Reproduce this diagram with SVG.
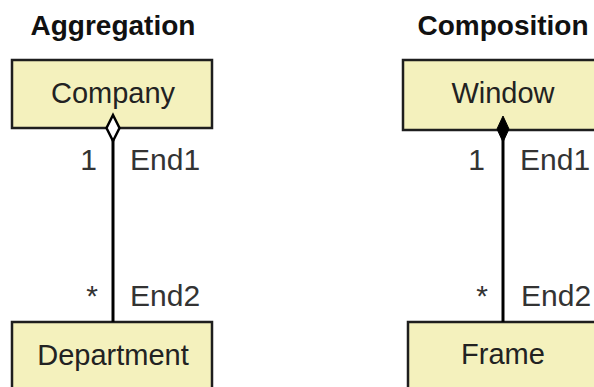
<svg xmlns="http://www.w3.org/2000/svg" width="594" height="387" viewBox="0 0 594 387">
  <style>
    .title { font-family: "Liberation Sans", Arial, sans-serif; font-weight: bold; font-size: 28px; fill: #111; text-anchor: middle; }
    .cls rect { fill: #f4f1bd; stroke: #1e1e1e; stroke-width: 2.5; }
    .cls text { font-family: "Liberation Sans", Arial, sans-serif; font-size: 29px; fill: #222; text-anchor: middle; }
    .link { stroke: #000; stroke-width: 3; fill: none; }
    .agg { fill: #ffffff; stroke: #000; stroke-width: 2.5; }
    .comp { fill: #000; stroke: #000; stroke-width: 1; }
    .lbl { font-family: "Liberation Sans", Arial, sans-serif; font-size: 30px; fill: #333; }
    .mult { text-anchor: end; }
  </style>
  <rect width="594" height="387" fill="#ffffff"/>

  <!-- headings -->
  <text class="title" x="113" y="35">Aggregation</text>
  <text class="title" x="503" y="35">Composition</text>

  <!-- classes -->
  <g id="company" class="cls">
    <rect x="12" y="60" width="200" height="68"/>
    <text x="113" y="103">Company</text>
  </g>
  <g id="department" class="cls">
    <rect x="12" y="322" width="200" height="80"/>
    <text x="113" y="365">Department</text>
  </g>
  <g id="window" class="cls">
    <rect x="403" y="60" width="200" height="70"/>
    <text x="503" y="103">Window</text>
  </g>
  <g id="frame" class="cls">
    <rect x="408" y="322" width="200" height="80"/>
    <text x="503" y="364">Frame</text>
  </g>

  <!-- associations, drawn after the classes so the diamonds sit on the borders -->
  <g id="connectors">
    <line class="link" x1="113" y1="128" x2="113" y2="322"/>
    <polygon class="agg" points="113,115 119.5,128 113,141 106.5,128"/>
    <text class="lbl mult" x="97" y="170">1</text>
    <text class="lbl" x="130" y="170">End1</text>
    <text class="lbl mult" x="98" y="306">*</text>
    <text class="lbl" x="130" y="306">End2</text>

    <line class="link" x1="503" y1="130" x2="503" y2="322"/>
    <polygon class="comp" points="503,116 509,129 503,142 497,129"/>
    <text class="lbl mult" x="485" y="170">1</text>
    <text class="lbl" x="520" y="170">End1</text>
    <text class="lbl mult" x="488" y="306">*</text>
    <text class="lbl" x="521" y="306">End2</text>
  </g>
</svg>
